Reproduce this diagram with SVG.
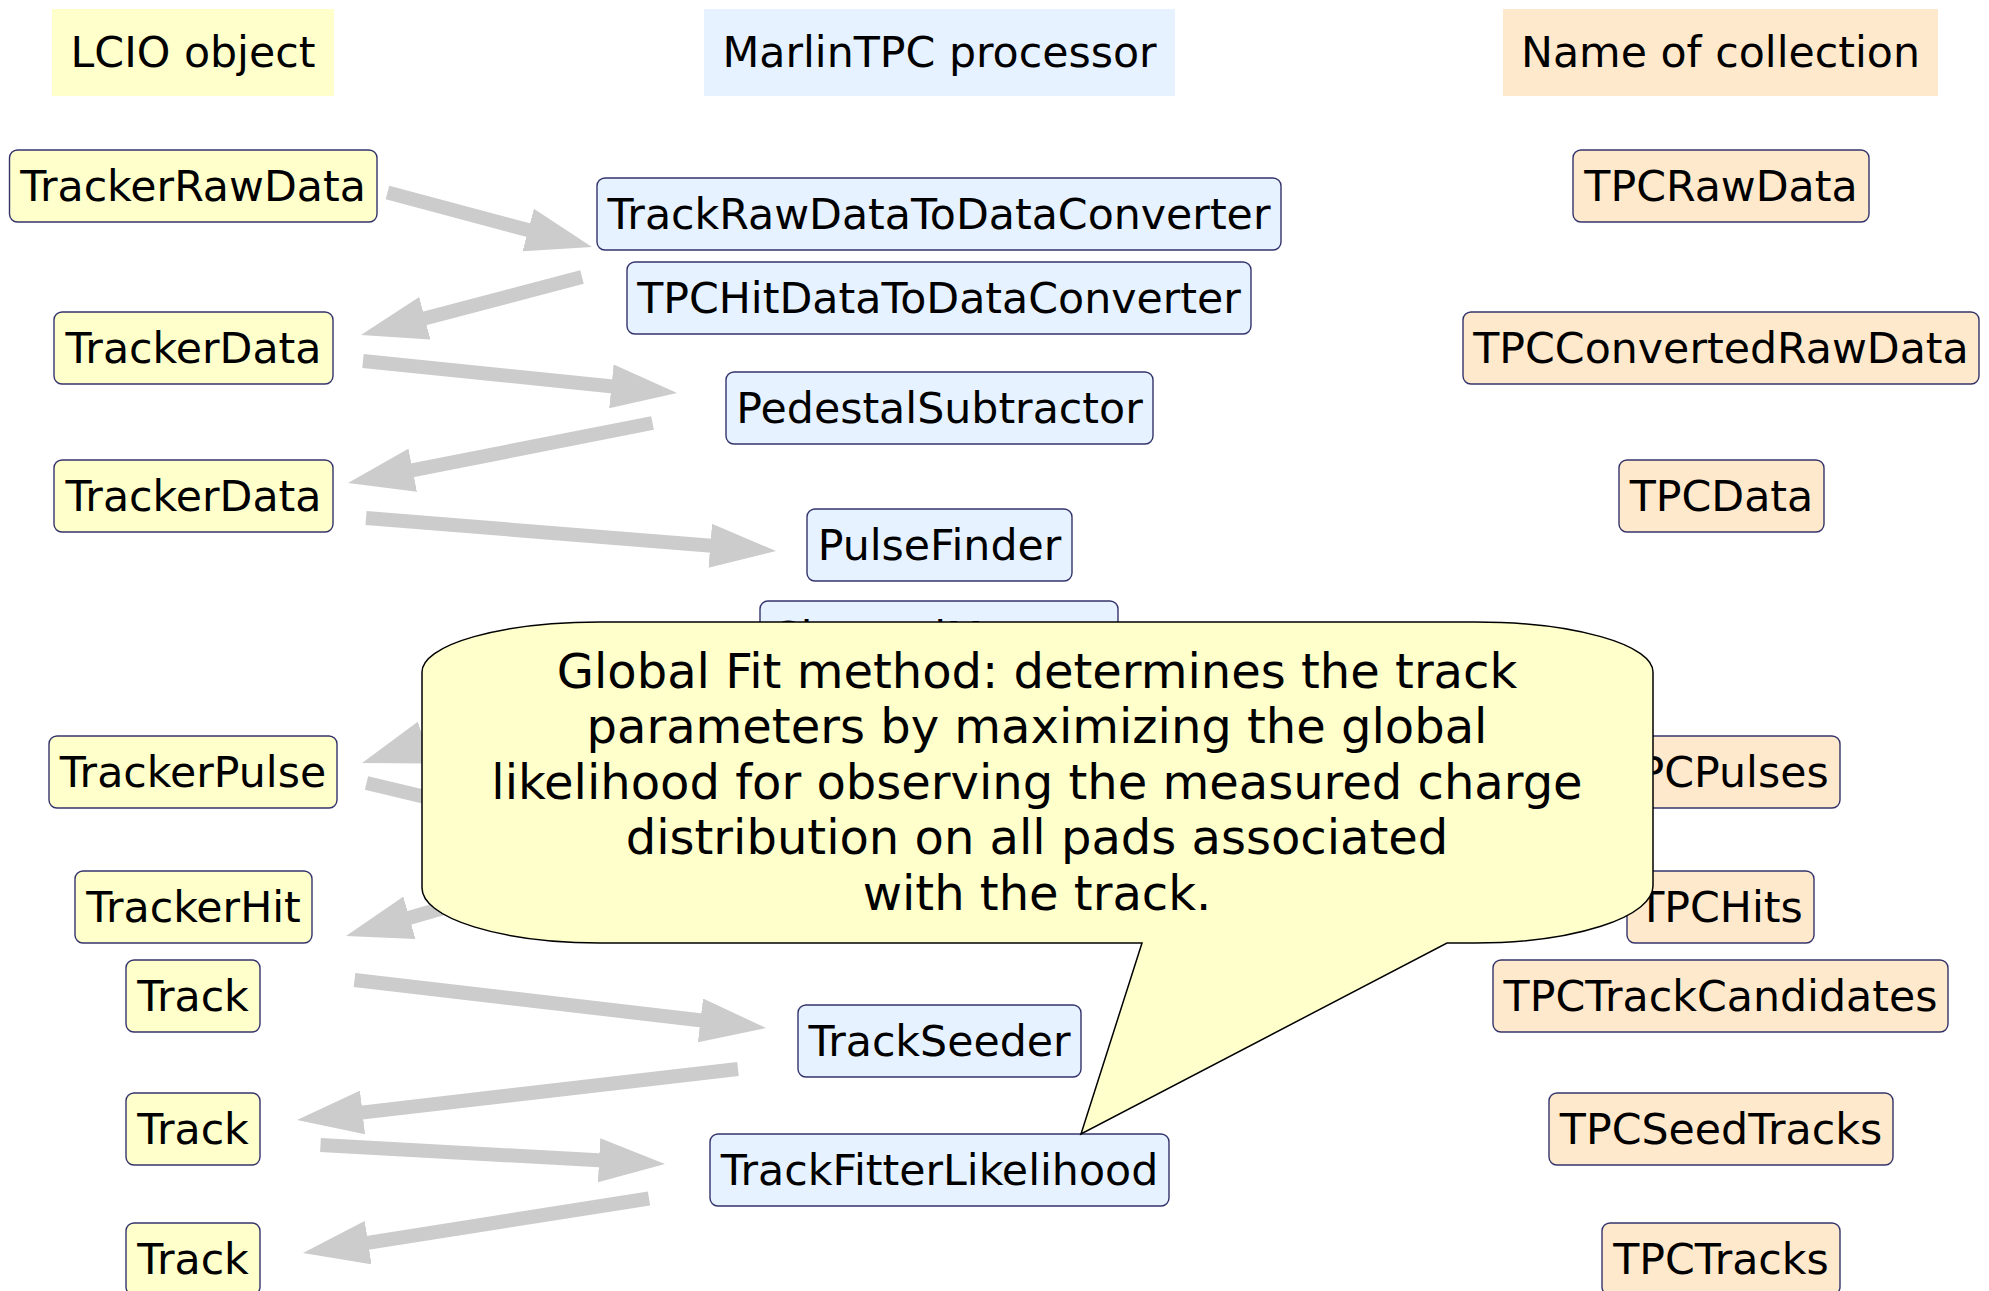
<svg xmlns="http://www.w3.org/2000/svg" width="1989" height="1291" viewBox="0 0 1989 1291">
<style>
text{font-family:"DejaVu Sans","Liberation Sans",sans-serif;fill:#000;text-anchor:middle}
.t{font-size:42.7px}
.c{font-size:48px}
.lc{fill:#ffffcc;stroke:#34346c;stroke-width:1.4}
.pr{fill:#e6f2ff;stroke:#34346c;stroke-width:1.4}
.co{fill:#ffe9cc;stroke:#34346c;stroke-width:1.4}
.arr{stroke:#cccccc;stroke-width:14;fill:none;marker-end:url(#ah)}
</style>
<defs>
<marker id="ah" markerUnits="userSpaceOnUse" viewBox="0 0 66 44" refX="36" refY="22" markerWidth="66" markerHeight="44" orient="auto">
<path d="M0,0 L66,22 L0,44 Z" fill="#cccccc"/>
</marker>
<clipPath id="cmclip"><rect x="740" y="590" width="400" height="32"/></clipPath>
</defs>
<rect width="1989" height="1291" fill="#ffffff"/>

<g id="headers">
<g id="h-lcio"><rect x="52" y="9" width="282" height="87" fill="#ffffcc"/><text class="t" x="193" y="67">LCIO object</text></g>
<g id="h-marlin"><rect x="704" y="9" width="471" height="87" fill="#e6f2ff"/><text class="t" x="939.5" y="67">MarlinTPC processor</text></g>
<g id="h-coll"><rect x="1503" y="9" width="435" height="87" fill="#ffe9cc"/><text class="t" x="1720.5" y="67">Name of collection</text></g>
</g>

<g id="n-trackerrawdata"><rect class="lc" x="9.5" y="150" width="367.5" height="72" rx="8"/><text class="t" x="193" y="201">TrackerRawData</text></g>
<g id="n-trackerdata1"><rect class="lc" x="54" y="312" width="279" height="72" rx="8"/><text class="t" x="193.5" y="363">TrackerData</text></g>
<g id="n-trackerdata2"><rect class="lc" x="54" y="460" width="279" height="72" rx="8"/><text class="t" x="193.5" y="511">TrackerData</text></g>
<g id="n-trackerpulse"><rect class="lc" x="49" y="736" width="288" height="72" rx="8"/><text class="t" x="193" y="787">TrackerPulse</text></g>
<g id="n-trackerhit"><rect class="lc" x="75" y="871" width="237" height="72" rx="8"/><text class="t" x="193.5" y="922">TrackerHit</text></g>
<g id="n-track1"><rect class="lc" x="126" y="960" width="134" height="72" rx="8"/><text class="t" x="193" y="1011">Track</text></g>
<g id="n-track2"><rect class="lc" x="126" y="1093" width="134" height="72" rx="8"/><text class="t" x="193" y="1144">Track</text></g>
<g id="n-track3"><rect class="lc" x="126" y="1223" width="134" height="72" rx="8"/><text class="t" x="193" y="1274">Track</text></g>

<g id="p-trackraw"><rect class="pr" x="597" y="178" width="684" height="72" rx="8"/><text class="t" x="939" y="229">TrackRawDataToDataConverter</text></g>
<g id="p-tpchit"><rect class="pr" x="627" y="262" width="624" height="72" rx="8"/><text class="t" x="939" y="313">TPCHitDataToDataConverter</text></g>
<g id="p-pedestal"><rect class="pr" x="726" y="372" width="427" height="72" rx="8"/><text class="t" x="939.5" y="423">PedestalSubtractor</text></g>
<g id="p-pulsefinder"><rect class="pr" x="807" y="509" width="265" height="72" rx="8"/><text class="t" x="939.5" y="560">PulseFinder</text></g>
<g id="p-channelmapper"><rect class="pr" x="760" y="601" width="358" height="72" rx="8"/><text class="t" x="939" y="652" clip-path="url(#cmclip)">ChannelMapper</text></g>
<g id="p-trackseeder"><rect class="pr" x="798" y="1005" width="283" height="72" rx="8"/><text class="t" x="939.5" y="1056">TrackSeeder</text></g>
<g id="p-trackfitter"><rect class="pr" x="710" y="1134" width="459" height="72" rx="8"/><text class="t" x="939.5" y="1185">TrackFitterLikelihood</text></g>

<g id="c-tpcrawdata"><rect class="co" x="1573" y="150" width="296" height="72" rx="8"/><text class="t" x="1721" y="201">TPCRawData</text></g>
<g id="c-tpcconverted"><rect class="co" x="1463" y="312" width="516" height="72" rx="8"/><text class="t" x="1721" y="363">TPCConvertedRawData</text></g>
<g id="c-tpcdata"><rect class="co" x="1619" y="460" width="205" height="72" rx="8"/><text class="t" x="1721.5" y="511">TPCData</text></g>
<g id="c-tpcpulses"><rect class="co" x="1601" y="736" width="239" height="72" rx="8"/><text class="t" x="1720.5" y="787">TPCPulses</text></g>
<g id="c-tpchits"><rect class="co" x="1627" y="871" width="187" height="72" rx="8"/><text class="t" x="1720.5" y="922">TPCHits</text></g>
<g id="c-tpctrackcand"><rect class="co" x="1493" y="960" width="455" height="72" rx="8"/><text class="t" x="1720.5" y="1011">TPCTrackCandidates</text></g>
<g id="c-tpcseed"><rect class="co" x="1549" y="1093" width="344" height="72" rx="8"/><text class="t" x="1721" y="1144">TPCSeedTracks</text></g>
<g id="c-tpctracks"><rect class="co" x="1602" y="1223" width="238" height="72" rx="8"/><text class="t" x="1721" y="1274">TPCTracks</text></g>

<g id="connectors">
<line class="arr" x1="387.5" y1="192.5" x2="563" y2="239.3"/>
<line class="arr" x1="582" y1="277" x2="390" y2="327.4"/>
<line class="arr" x1="363" y1="361" x2="647.2" y2="390"/>
<line class="arr" x1="652.5" y1="423" x2="377.4" y2="477.2"/>
<line class="arr" x1="366" y1="518" x2="746.1" y2="548.6"/>
<line class="arr" x1="742" y1="639" x2="390.5" y2="753.7"/>
<line class="arr" x1="366.5" y1="783" x2="726.3" y2="869"/>
<line class="arr" x1="749.6" y1="820" x2="374.8" y2="927.7"/>
<line class="arr" x1="354.5" y1="980" x2="736.2" y2="1024.5"/>
<line class="arr" x1="738" y1="1069" x2="326.8" y2="1116.6"/>
<line class="arr" x1="320.5" y1="1145" x2="635" y2="1162.3"/>
<line class="arr" x1="649" y1="1198.5" x2="332.6" y2="1248.3"/>
</g>

<g id="callout">
<path d="M422,672 A178,50 0 0 1 600,622 L1475,622 A178,50 0 0 1 1653,672 L1653,886 A178,57 0 0 1 1475,943 L1447,943 L1081,1134 L1142,943 L600,943 A178,55 0 0 1 422,888 Z" fill="#ffffcc" stroke="#000000" stroke-width="1.5"/>
<text class="c" x="1037" y="687.5">Global Fit method: determines the track</text>
<text class="c" x="1037" y="743">parameters by maximizing the global</text>
<text class="c" x="1037" y="798.5">likelihood for observing the measured charge</text>
<text class="c" x="1037" y="854">distribution on all pads associated</text>
<text class="c" x="1037" y="909.5">with the track.</text>
</g>
</svg>
